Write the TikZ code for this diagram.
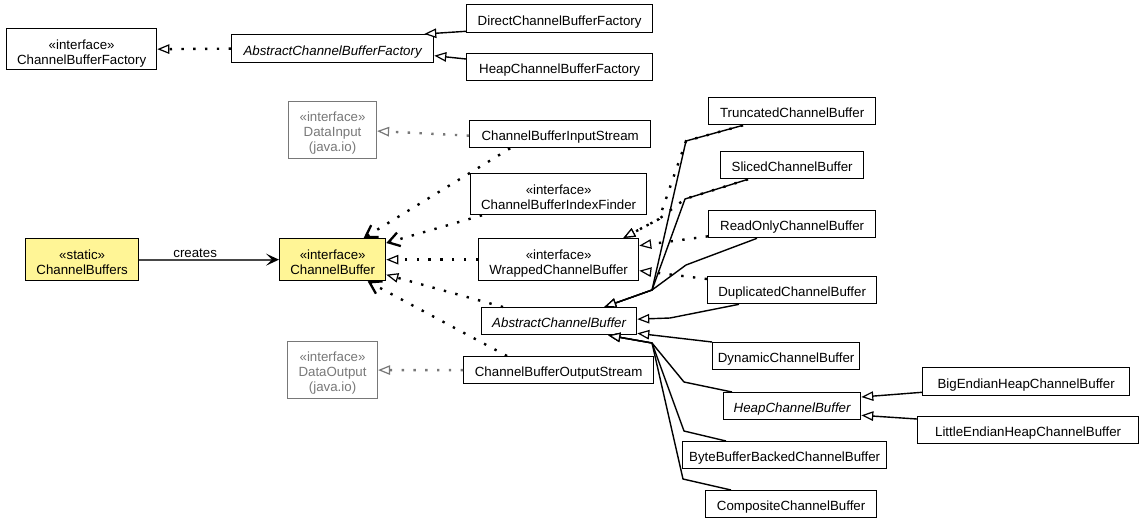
\documentclass[tikz,border=0pt]{standalone}
\usepackage{fontspec}
\setmainfont{Liberation Sans}
\usetikzlibrary{arrows.meta}
\definecolor{cbyellow}{RGB}{255,245,150}
\definecolor{ifgray}{RGB}{120,120,120}
\newcommand\twol[2]{\begin{tabular}[b]{@{}c@{}}#1\\#2\end{tabular}}
\newcommand\threel[3]{\begin{tabular}[b]{@{}c@{}}#1\\#2\\#3\end{tabular}}
\begin{document}
\begin{tikzpicture}[x=1pt,y=-1pt,
  cls/.style={draw, line width=1.3pt, inner sep=0pt, anchor=north west, font=\fontsize{13.3}{15}\selectfont, text height=13.5pt, text depth=0pt},
  two/.style={text height=30pt},
  three/.style={text height=42pt},
  grycls/.style={cls, draw=ifgray, text=ifgray, line width=1.1pt},
  ylw/.style={fill=cbyellow},
  dotpat/.style={line width=2.4pt, dash pattern=on 2.4pt off 9.4pt},
  real/.style={dotpat, -{Triangle[length=12pt,width=9.5pt,fill=white,line width=1.2pt]}},
  greal/.style={real, draw=ifgray},
  gen/.style={line width=1.4pt, -{Triangle[length=12pt,width=9.5pt,fill=white,line width=1.2pt]}},
  dep/.style={dotpat, -{Straight Barb[length=11pt,width=14pt,line width=2.3pt]}},
  assoc/.style={line width=2pt, draw=black!72, -{Stealth[length=13pt,width=12pt,inset=6pt,black]}}
]
\useasboundingbox (0,0) rectangle (1144,523);
% top: factories
\node[cls, two, minimum width=150pt, minimum height=41pt] (cbf) at (6,28) {\twol{«interface»}{ChannelBufferFactory}};
\node[cls, minimum width=202pt, minimum height=28pt] (acbf) at (231,34) {\itshape AbstractChannelBufferFactory};
\node[cls, minimum width=186pt, minimum height=28pt] (dcbf) at (466,4) {DirectChannelBufferFactory};
\node[cls, minimum width=186pt, minimum height=27pt] (hcbf) at (466,53) {HeapChannelBufferFactory};
% middle left
\node[grycls, three, minimum width=88pt, minimum height=57pt] (di) at (288,101) {\threel{«interface»}{DataInput}{(java.io)}};
\node[grycls, three, minimum width=90pt, minimum height=57pt] (do) at (287,341) {\threel{«interface»}{DataOutput}{(java.io)}};
\node[cls, minimum width=181pt, minimum height=27pt] (cbis) at (469,120) {ChannelBufferInputStream};
\node[cls, two, minimum width=176pt, minimum height=41pt] (cbif) at (470,173) {\twol{«interface»}{ChannelBufferIndexFinder}};
\node[cls, two, ylw, minimum width=113pt, minimum height=42pt] (cbs) at (25,238) {\twol{«static»}{ChannelBuffers}};
\node[cls, two, ylw, minimum width=106pt, minimum height=42pt] (cb) at (279,238) {\twol{«interface»}{ChannelBuffer}};
\node[cls, two, minimum width=160pt, minimum height=42pt] (wcb) at (478,238) {\twol{«interface»}{WrappedChannelBuffer}};
\node[cls, minimum width=155pt, minimum height=27pt] (acb) at (481,307) {\itshape AbstractChannelBuffer};
\node[cls, minimum width=190pt, minimum height=27pt] (cbos) at (463,356) {ChannelBufferOutputStream};
% right column
\node[cls, minimum width=167pt, minimum height=27pt] (tr) at (708,97) {TruncatedChannelBuffer};
\node[cls, minimum width=143pt, minimum height=27pt] (sl) at (720,151) {SlicedChannelBuffer};
\node[cls, minimum width=167pt, minimum height=27pt] (ro) at (708,210) {ReadOnlyChannelBuffer};
\node[cls, minimum width=169pt, minimum height=27pt] (du) at (707,276) {DuplicatedChannelBuffer};
\node[cls, minimum width=147pt, minimum height=27pt] (dy) at (712,342) {DynamicChannelBuffer};
\node[cls, minimum width=137pt, minimum height=27pt] (hp) at (723,392) {\itshape HeapChannelBuffer};
\node[cls, minimum width=204pt, minimum height=27pt] (bb) at (682,441) {ByteBufferBackedChannelBuffer};
\node[cls, minimum width=171pt, minimum height=27pt] (cp) at (705,490) {CompositeChannelBuffer};
\node[cls, minimum width=207pt, minimum height=28pt] (be) at (922,367) {BigEndianHeapChannelBuffer};
\node[cls, minimum width=221pt, minimum height=27pt] (le) at (917,416) {LittleEndianHeapChannelBuffer};
% bend points
\coordinate (btr) at (686,141);
\coordinate (bsl) at (685,199);
\coordinate (bro) at (686,265);
\coordinate (jone) at (652,290);
\coordinate (mdot) at (659,219);
\coordinate (bdu) at (670,318);
\coordinate (jtwo) at (652,343);
\coordinate (bhp) at (684,382);
\coordinate (bbb) at (684,431);
\coordinate (bcp) at (683,479);
% factory edges
\draw[real] (acbf.west) -- (cbf.east);
\draw[gen] ([yshift=2pt]dcbf.south west) -- ([xshift=-10pt]acbf.north east);
\draw[gen] ([yshift=-6pt]hcbf.north west) -- ([yshift=-7pt]acbf.east);
% ChannelBuffer edges
\draw[assoc] (cbs.east) -- node[pos=0.4, above, inner sep=1pt, font=\fontsize{13.3}{15}\selectfont] {creates} (cb.west);
\draw[greal] ([yshift=-1.5pt]cbis.west) -- ([yshift=-1pt]di.east);
\draw[dep] ([xshift=-50pt]cbis.south) -- ([xshift=31pt]cb.north);
\draw[dep] ([xshift=12pt]cbif.south west) -- ([yshift=-5pt]cb.north east);
\draw[real] (wcb.west) -- (cb.east);
\draw[real] ([xshift=22pt]acb.north west) -- ([yshift=-15pt]cb.east);
\draw[dep] ([xshift=44pt]cbos.north west) -- ([xshift=35pt]cb.south);
\draw[greal] (cbos.west) -- (do.east);
% wrapped buffers: realization of WrappedChannelBuffer
\draw[real] ([xshift=35pt]tr.south west) -- (btr) -- (mdot) -- ([xshift=-16pt]wcb.north east);
\draw[real] ([xshift=28pt]sl.south west) -- (bsl) -- (mdot) -- ([xshift=-16pt]wcb.north east);
\draw[real] ([yshift=2pt]ro.south west) -- ([yshift=14pt]wcb.east);
\draw[real] ([yshift=-3pt]du.north west) -- ([yshift=-11pt]wcb.east);
% generalization to AbstractChannelBuffer
\draw[gen] ([xshift=35pt]tr.south west) -- (btr) -- (jone) -- ([xshift=-33pt]acb.north east);
\draw[gen] ([xshift=28pt]sl.south west) -- (bsl) -- (jone) -- ([xshift=-33pt]acb.north east);
\draw[gen] ([xshift=49pt]ro.south west) -- (bro) -- (jone) -- ([xshift=-33pt]acb.north east);
\draw[gen] ([xshift=32pt]du.south west) -- (bdu) -- ([yshift=2pt]acb.east);
\draw[gen] (dy.north west) -- ([yshift=2pt]acb.south east);
\draw[gen] ([xshift=9pt]hp.north west) -- (bhp) -- (jtwo) -- ([xshift=-29pt]acb.south east);
\draw[gen] ([xshift=44pt]bb.north west) -- (bbb) -- (jtwo) -- ([xshift=-29pt]acb.south east);
\draw[gen] ([xshift=26pt]cp.north west) -- (bcp) -- (jtwo) -- ([xshift=-29pt]acb.south east);
% heap buffers
\draw[gen] ([yshift=4pt]be.south west) -- ([yshift=-5pt]hp.north east);
\draw[gen] ([yshift=-3pt]le.north west) -- ([yshift=5pt]hp.south east);
\end{tikzpicture}
\end{document}
